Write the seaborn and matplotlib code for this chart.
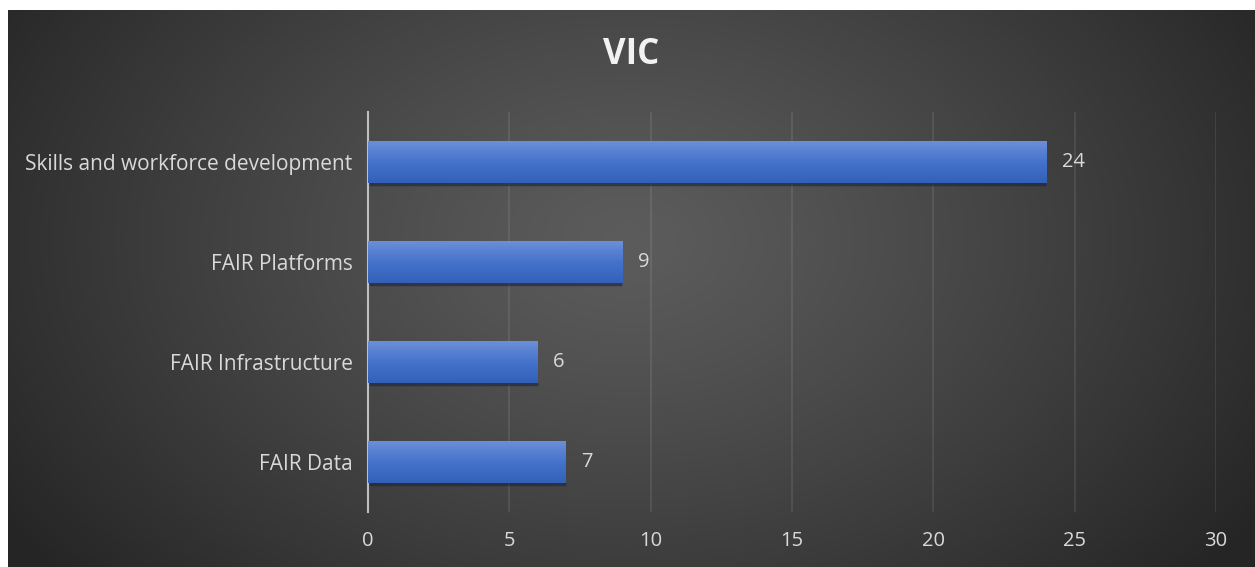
import numpy as np
import pandas as pd
import matplotlib
matplotlib.use("Agg")
import matplotlib.pyplot as plt
import seaborn as sns

categories = ["Skills and workforce development", "FAIR Platforms", "FAIR Infrastructure", "FAIR Data"]
values = [24, 9, 6, 7]
xticks = [0, 5, 10, 15, 20, 25, 30]
title = "VIC"

sns.set_theme(style="white")
plt.rcParams['font.family'] = ['Open Sans', 'DejaVu Sans']

W, H = 1255, 567
fig = plt.figure(figsize=(W / 100, H / 100), dpi=100)
fig.patch.set_facecolor("white")

# background radial gradient panel
bg = fig.add_axes([8 / W, 0, (W - 8) / W, (H - 10) / H], zorder=0)
yy, xx = np.mgrid[0:H - 10, 0:W - 8]
cx, cy = 620, 230
r = np.sqrt(((xx - cx) / 750.0) ** 2 + ((yy - cy) / 520.0) ** 2)
r = np.clip(r, 0, 1)
inner, outer = 0x5c, 0x25
val = (inner + (outer - inner) * r ** 1.2) / 255.0
img = np.dstack([val, val, val])
bg.imshow(img, aspect="auto", interpolation="bilinear")
bg.set_axis_off()

df = pd.DataFrame({"category": categories, "value": values})

ax = fig.add_axes([368 / W, 55 / H, 848 / W, 400 / H], zorder=1)
ax.patch.set_alpha(0)
sns.barplot(data=df, x="value", y="category", orient="h", color="#4472C4",
            width=0.42, saturation=1, ax=ax, zorder=3, edgecolor="none", linewidth=0)

# gradient fill in bars
grad = np.linspace(0, 1, 64).reshape(-1, 1)
top_c = np.array([0.42, 0.56, 0.85])
mid_c = np.array([0.27, 0.45, 0.80])
bot_c = np.array([0.20, 0.38, 0.72])
cols = np.where(grad < 0.5,
                top_c + (mid_c - top_c) * (grad / 0.5),
                mid_c + (bot_c - mid_c) * ((grad - 0.5) / 0.5))
gimg = np.dstack([cols[:, 0:1], cols[:, 1:2], cols[:, 2:3]])
for p in ax.patches:
    x0, y0 = p.get_x(), p.get_y()
    w, h = p.get_width(), p.get_height()
    # shadow line under bar
    ax.plot([x0 + 0.05, x0 + w], [y0 + h + 0.012, y0 + h + 0.012], color="#1a2440",
            lw=2.5, alpha=0.6, zorder=2, solid_capstyle="butt")
    im = ax.imshow(gimg, extent=[x0, x0 + w, y0 + h, y0], aspect="auto",
                   zorder=4, interpolation="bilinear")
    im.set_clip_path(p)
    ax.text(x0 + w + 0.55, y0 + h / 2, f"{int(w)}", va="center", ha="left",
            color="#d9d9d9", fontsize=14.5, zorder=5)

ax.set_xlim(0, 30)
ax.set_ylim(3.5, -0.5)
ax.set_xticks(xticks)
ax.set_xticklabels([str(t) for t in xticks])
ax.set_xlabel("")
ax.set_ylabel("")
ax.grid(axis="x", color="#ffffff", alpha=0.1, lw=1.2, zorder=0)
ax.grid(axis="y", visible=False)
for s in ["top", "right", "bottom"]:
    ax.spines[s].set_visible(False)
ax.spines["left"].set_color("#bfbfbf")
ax.spines["left"].set_linewidth(1.5)
ax.tick_params(axis="x", length=0, pad=14, labelcolor="#d9d9d9", labelsize=14.5)
ax.tick_params(axis="y", length=0, pad=11, labelcolor="#d9d9d9", labelsize=15)

fig.text(631 / W, 1 - 55 / H, title, ha="center", va="center", color="#f2f2f2",
         fontsize=25, fontweight="bold")

fig.savefig("out.png", dpi=100, facecolor=fig.get_facecolor())
